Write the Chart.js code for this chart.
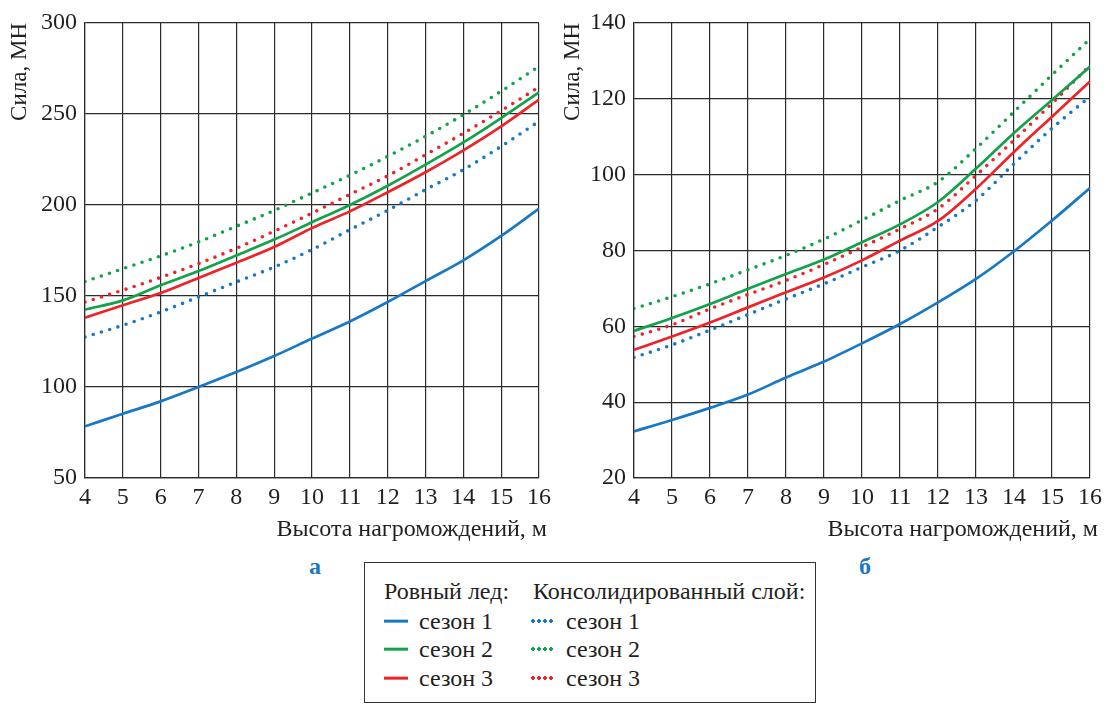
<!DOCTYPE html>
<html lang="ru">
<head>
<meta charset="utf-8">
<title>Сила от высоты нагромождений</title>
<script src="https://cdn.jsdelivr.net/npm/chart.js@4.4.1/dist/chart.umd.min.js"></script>
<style>
  html, body { margin: 0; padding: 0; background: #fff; }
  #wrap { position: relative; width: 1108px; height: 704px; overflow: hidden; background: #fff;
          font-family: "Liberation Serif", "DejaVu Serif", serif; color: #231f20; }
  canvas { position: absolute; top: 0; }
  #cA { left: 0; }
  #cB { left: 550px; }
  .tag { position: absolute; font-weight: bold; font-size: 24px; color: #1a78c2; transform: translate(-50%, -50%); }
  #legend { position: absolute; left: 364px; top: 562px; width: 452px; height: 141px;
            border: 1.3px solid #333; box-sizing: border-box; font-size: 24px; }
  .lt { position: absolute; white-space: nowrap; transform: translateY(-50%); line-height: 1; }
  .sw { position: absolute; width: 24px; height: 4px; transform: translateY(-50%); }
</style>
</head>
<body>
<div id="wrap">
  <canvas id="cA" width="560" height="550"></canvas>
  <canvas id="cB" width="558" height="550"></canvas>
  <div class="tag" style="left:315px; top:566px;">а</div>
  <div class="tag" style="left:865px; top:566px;">б</div>
  <div id="legend"></div>
</div>
<script>
// ---------- data ----------
const heights = [4, 5, 6, 7, 8, 9, 10, 11, 12, 13, 14, 15, 16];

// panel а
const a_flat1 = [78.4, 85.3, 92.1, 100, 108.2, 117, 126.6, 136, 146.7, 158.2, 169.6, 183, 198];
const a_flat2 = [142.5, 147.6, 155.9, 163.7, 172.3, 181, 190.5, 200, 210.6, 222.2, 234.4, 247.8, 261.9];
const a_flat3 = [138.1, 144.9, 151.6, 159.9, 168.3, 176.9, 187.4, 196.5, 207, 218, 230, 243.2, 257.9];
const a_cons1 = [127.5, 133.9, 141.2, 149.5, 157.7, 165.9, 175.5, 186.4, 197, 208.4, 219.4, 232.2, 246];
const a_cons2 = [158, 165, 172, 179.7, 188.3, 197, 206.6, 216.3, 226.7, 237.7, 249.6, 262.5, 276.2];
const a_cons3 = [146.7, 153.2, 160.2, 167.8, 176.2, 185.6, 195.5, 205.8, 216, 227.6, 239.4, 251.8, 264.8];

// panel б
const b_flat1 = [32.3, 35.3, 38.5, 42, 46.5, 50.7, 55.5, 60.6, 66.3, 72.5, 79.8, 87.9, 96.5];
const b_flat2 = [58.8, 62.2, 65.9, 69.9, 73.8, 77.6, 82.2, 86.9, 92.8, 101.6, 111, 119.7, 128.5];
const b_flat3 = [53.8, 57.3, 61, 65, 69, 72.9, 77.4, 82.6, 87.8, 96.3, 106, 115.3, 124.6];
const b_cons1 = [51.8, 55.1, 59, 63.1, 67.2, 71.2, 75.6, 80, 86.2, 93.2, 102.9, 112.2, 120.6];
const b_cons2 = [64.7, 67.8, 71.2, 74.9, 78.7, 83, 88, 93.2, 98.1, 106.9, 116.6, 126.3, 135.8];
const b_cons3 = [57.3, 60.4, 64.6, 68.4, 72.1, 76.3, 80.9, 85.7, 91, 99.8, 109.1, 118.8, 128.8];

const a_yTicks = [50, 100, 150, 200, 250, 300];
const b_yTicks = [20, 40, 60, 80, 100, 120, 140];

const seasonNames = ["сезон 1", "сезон 2", "сезон 3"];
const groupFlat = "Ровный лед:";
const groupCons = "Консолидированный слой:";
const xTitle = "Высота нагромождений, м";
const yTitle = "Сила, МН";

// ---------- style ----------
const COLORS = ["#1878c4", "#12a24a", "#ee2328"];
const TXT = "#231f20";
const GRID = "#2b2b2b";
const FONT = "'Liberation Serif', 'DejaVu Serif', serif";

// x-axis title, right-aligned slightly past the plot's right edge (as in the source)
const xTitlePlugin = {
  id: "xTitleRight",
  afterDraw(chart) {
    const { ctx, chartArea } = chart;
    ctx.save();
    ctx.font = "24px " + FONT;
    ctx.fillStyle = TXT;
    ctx.textAlign = "right";
    ctx.textBaseline = "middle";
    ctx.fillText(xTitle, chartArea.right + 8, chartArea.bottom + 52);
    ctx.restore();
  }
};

function series(vals, ci, dotted) {
  return {
    data: heights.map((h, i) => ({ x: h, y: vals[i] })),
    borderColor: COLORS[ci],
    borderWidth: dotted ? 3.6 : 2.7,
    borderDash: dotted ? [0, 8.6] : [],
    borderCapStyle: dotted ? "round" : "butt",
    pointRadius: 0,
    cubicInterpolationMode: "monotone",
    fill: false
  };
}

function makeChart(id, flats, conss, yTicks, rightPad, yAxisW, titlePad) {
  const datasets = [];
  flats.forEach((v, i) => datasets.push(series(v, i, false)));
  conss.forEach((v, i) => datasets.push(series(v, i, true)));
  return new Chart(document.getElementById(id), {
    type: "line",
    data: { datasets },
    plugins: [xTitlePlugin],
    options: {
      responsive: false,
      animation: false,
      events: [],
      layout: { padding: { left: 0, top: 23, right: rightPad, bottom: 0 } },
      plugins: { legend: { display: false }, tooltip: { enabled: false } },
      scales: {
        x: {
          type: "linear",
          min: heights[0], max: heights[heights.length - 1],
          afterBuildTicks: s => { s.ticks = heights.map(v => ({ value: v })); },
          afterFit: s => { s.height = 72; },
          grid: { color: GRID, lineWidth: 1.2, drawTicks: false },
          border: { color: GRID, width: 1.2 },
          ticks: { color: TXT, font: { family: FONT, size: 24 }, padding: 5, maxRotation: 0, autoSkip: false },
          title: { display: false }
        },
        y: {
          type: "linear",
          min: yTicks[0], max: yTicks[yTicks.length - 1],
          afterBuildTicks: s => { s.ticks = yTicks.map(v => ({ value: v })); },
          afterFit: s => { s.width = yAxisW; },
          grid: { color: GRID, lineWidth: 1.2, drawTicks: false },
          border: { color: GRID, width: 1.2 },
          ticks: { color: TXT, font: { family: FONT, size: 24 }, padding: 8, autoSkip: false },
          title: { display: true, text: yTitle, align: "end", color: TXT,
                   font: { family: FONT, size: 23, lineHeight: 1.2 }, padding: { top: titlePad, bottom: 0 } }
        }
      }
    }
  });
}

makeChart("cA", [a_flat1, a_flat2, a_flat3], [a_cons1, a_cons2, a_cons3], a_yTicks, 21, 85, 6);
makeChart("cB", [b_flat1, b_flat2, b_flat3], [b_cons1, b_cons2, b_cons3], b_yTicks, 18, 84, 9);

// ---------- legend ----------
const lg = document.getElementById("legend");
function addText(txt, x, y) {
  const d = document.createElement("div");
  d.className = "lt"; d.textContent = txt;
  d.style.left = x + "px"; d.style.top = y + "px";
  lg.appendChild(d);
}
function addSwatch(ci, dotted, x, y) {
  const d = document.createElement("div");
  d.className = "sw";
  d.style.left = x + "px"; d.style.top = y + "px";
  if (dotted) {
    d.style.backgroundImage = `radial-gradient(circle, ${COLORS[ci]} 1.6px, transparent 2.1px)`;
    d.style.backgroundSize = "6px 4px";
  } else {
    d.style.height = "2.7px";
    d.style.background = COLORS[ci];
  }
  lg.appendChild(d);
}
const L0 = 364, T0 = 562;
addText(groupFlat, 383 - L0, 590 - T0);
addText(groupCons, 532 - L0, 590 - T0);
const rowsY = [620, 648, 677];
seasonNames.forEach((name, i) => {
  addSwatch(i, false, 383 - L0, rowsY[i] - T0);
  addText(name, 418 - L0, rowsY[i] - T0);
  addSwatch(i, true, 529 - L0, rowsY[i] - T0);
  addText(name, 565 - L0, rowsY[i] - T0);
});
</script>
</body>
</html>
